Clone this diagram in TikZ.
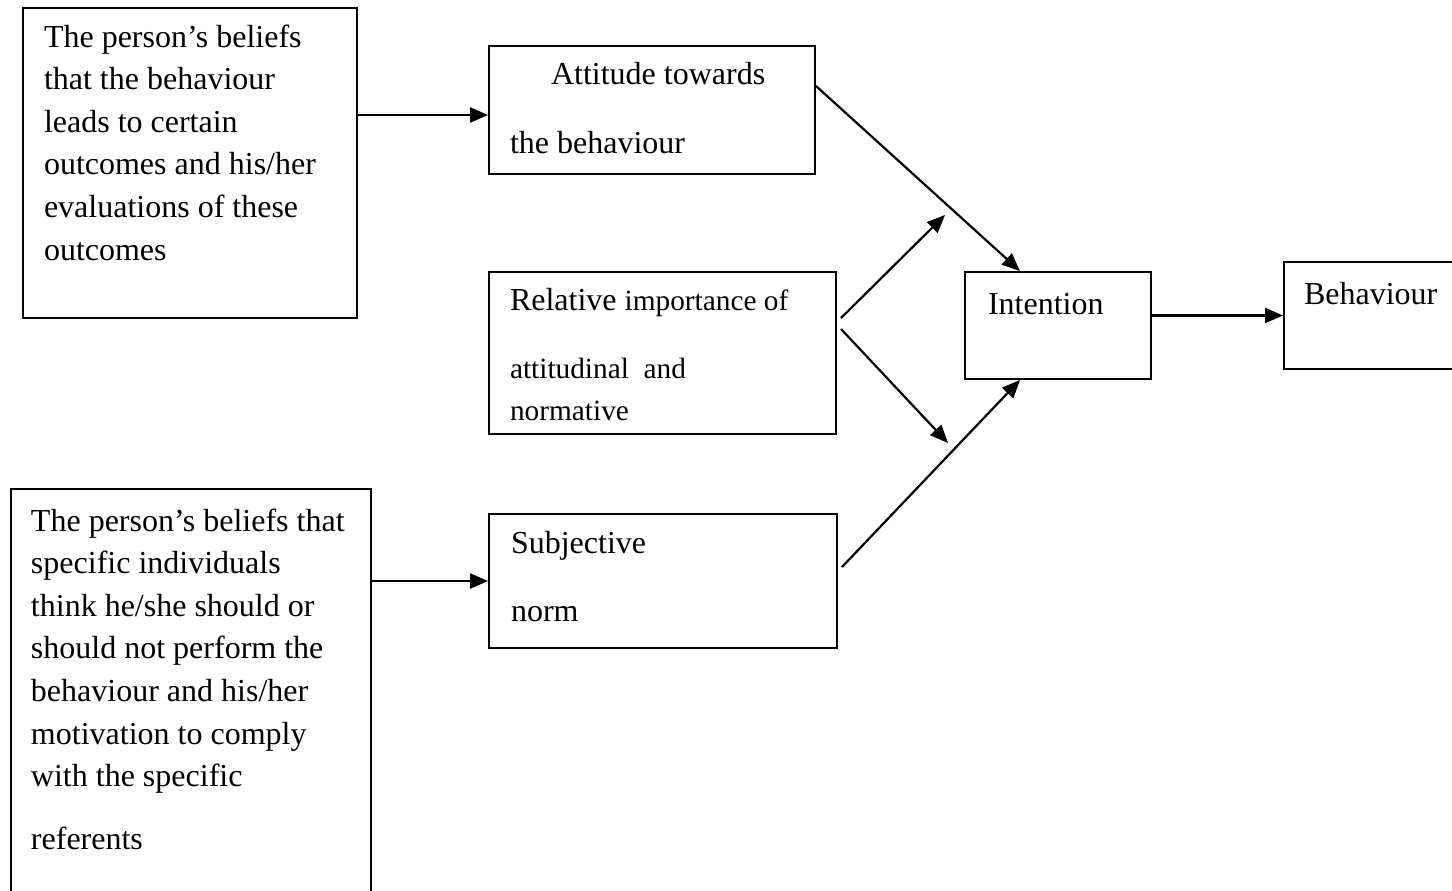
\documentclass[tikz,border=0pt]{standalone}
\usepackage{fontspec}
\setmainfont{Liberation Serif}
\usetikzlibrary{arrows.meta}
\newcommand{\bigfs}{\fontsize{16}{21.3}\selectfont}
\newcommand{\smallfs}{\fontsize{14.67}{19.5}\selectfont}

\begin{document}
\begin{tikzpicture}[x=0.5pt, y=-0.5pt,
		box/.style={draw, line width=1pt, anchor=north west, align=flush left, inner ysep=0pt, font=\bigfs},
		arr/.style={-{Triangle[length=9pt,width=7.5pt]}, line width=1.1pt}]
	\clip (0,0) rectangle (1452,890);
	% left column
	\node [box, inner xsep=10.5pt, text width=146pt, text height=19.5pt, text depth=135.5pt] (b1) at (22,7)
		{The person’s beliefs\\that the behaviour\\leads to certain\\outcomes and his/her\\evaluations of these\\outcomes};
	\node [box, inner xsep=10pt, text width=160pt, text height=21pt, text depth=195pt] (b2) at (10,488)
		{The person’s beliefs that\\specific individuals\\think he/she should or\\should not perform the\\behaviour and his/her\\motivation to comply\\with the specific\\[10pt]referents};
	% middle column
	\node [box, inner xsep=10.5pt, text width=142pt, text height=19pt, text depth=45pt] (att) at (488,45)
		{\hspace*{20.5pt}Attitude towards\\[13.2pt]the behaviour};
	\node [box, inner xsep=10.5pt, text width=152.5pt, text height=19pt, text depth=62pt] (rel) at (488,271)
		{Relative {\smallfs importance of\\[14.5pt]attitudinal\ \ and\\normative}};
	\node [box, inner xsep=11pt, text width=152pt, text height=19.5pt, text depth=47.5pt] (sub) at (488,513)
		{Subjective\\[12.7pt]norm};
	% right part
	\node [box, inner xsep=11.5pt, text width=70pt, text height=21pt, text depth=32.5pt] (int) at (964,271) {Intention};
	\node [box, inner xsep=10pt, text width=80pt, text height=21pt, text depth=32.5pt] (beh) at (1283,261) {Behaviour};
	\coordinate (ta) at (945,215);
	\coordinate (tb) at (948,443);
	%
	\draw [arr] (b1.east |- 0,115) -- (att.west |- 0,115);
	\draw [arr] (b2.east |- sub.west) -- (sub.west);
	\draw [arr] ([yshift=12pt]att.east) -- ([xshift=28pt]int.north west);
	\draw [arr] ([xshift=2pt,yshift=17.5pt]rel.east) -- (ta);
	\draw [arr] ([xshift=2pt,yshift=12pt]rel.east) -- (tb);
	\draw [arr] ([xshift=2pt,yshift=7pt]sub.east) -- ([xshift=28pt]int.south west);
	\draw [arr] (int.east |- beh.west) -- (beh.west);
\end{tikzpicture}
\end{document}
